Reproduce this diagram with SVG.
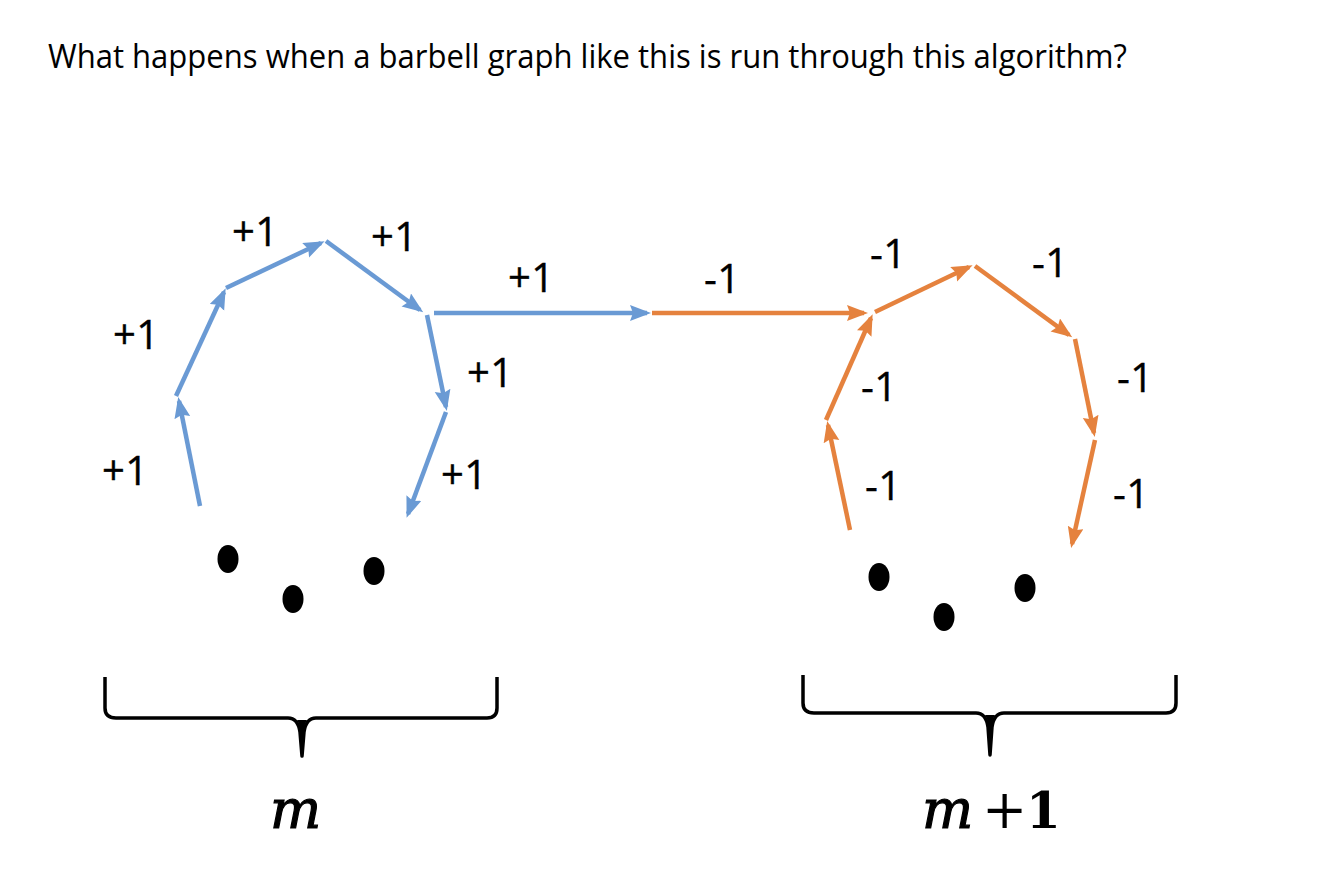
<svg xmlns="http://www.w3.org/2000/svg" width="1334" height="878" viewBox="0 0 1334 878">
<style>
.title{font-family:"Open Sans","Liberation Sans",sans-serif;font-size:32px;fill:#000}
.lbl{font-family:"Open Sans","Liberation Sans",sans-serif;font-size:40px;fill:#000;letter-spacing:0.5px;stroke:#000;stroke-width:0.4px}
.b{stroke:#6a9ad4;stroke-width:4.5;fill:none}
.o{stroke:#e5823e;stroke-width:4.5;fill:none}
.brace{stroke:#000;stroke-width:3.5;fill:none;stroke-linejoin:round}
.stem{fill:#000}
.dot{fill:#000}
.math{font-family:"DejaVu Serif","Liberation Serif",serif;font-size:54px;fill:#000}
.mi{font-style:italic;stroke:#000;stroke-width:1.2px}
</style>
<defs>
<marker id="ab" markerUnits="userSpaceOnUse" markerWidth="24" markerHeight="20" refX="17" refY="8" orient="auto">
<path d="M0,0 L21,8 L0,16 L3,8 z" fill="#6a9ad4"/>
</marker>
<marker id="ao" markerUnits="userSpaceOnUse" markerWidth="24" markerHeight="20" refX="17" refY="8" orient="auto">
<path d="M0,0 L21,8 L0,16 L3,8 z" fill="#e5823e"/>
</marker>
</defs>
<rect width="1334" height="878" fill="#fff"/>
<text class="title" x="48" y="68" textLength="1079" lengthAdjust="spacingAndGlyphs">What happens when a barbell graph like this is run through this algorithm?</text>

<g id="connectors">
<line class="b" x1="200" y1="506" x2="179" y2="401" marker-end="url(#ab)"/>
<line class="b" x1="176" y1="396" x2="224" y2="292" marker-end="url(#ab)"/>
<line class="b" x1="226" y1="288" x2="321" y2="243" marker-end="url(#ab)"/>
<line class="b" x1="326" y1="241" x2="420" y2="310" marker-end="url(#ab)"/>
<line class="b" x1="427" y1="315" x2="446" y2="407" marker-end="url(#ab)"/>
<line class="b" x1="446" y1="412" x2="408" y2="514" marker-end="url(#ab)"/>
<line class="b" x1="434" y1="313" x2="647" y2="313" marker-end="url(#ab)"/>
<line class="o" x1="652" y1="313" x2="864" y2="313" marker-end="url(#ao)"/>
<line class="o" x1="850" y1="530" x2="828" y2="425" marker-end="url(#ao)"/>
<line class="o" x1="826" y1="420" x2="871" y2="318" marker-end="url(#ao)"/>
<line class="o" x1="875" y1="312" x2="969" y2="267" marker-end="url(#ao)"/>
<line class="o" x1="975" y1="266" x2="1069" y2="335" marker-end="url(#ao)"/>
<line class="o" x1="1075" y1="339" x2="1094" y2="433" marker-end="url(#ao)"/>
<line class="o" x1="1095" y1="440" x2="1072" y2="544" marker-end="url(#ao)"/>
</g>

<g id="labels-left">
<text class="lbl" x="113" y="349">+1</text>
<text class="lbl" x="102" y="485">+1</text>
<text class="lbl" x="232" y="246">+1</text>
<text class="lbl" x="371" y="251">+1</text>
<text class="lbl" x="467" y="387">+1</text>
<text class="lbl" x="441" y="489">+1</text>
<text class="lbl" x="508" y="292">+1</text>
</g>
<g id="labels-right">
<text class="lbl" x="704" y="293">-1</text>
<text class="lbl" x="870" y="268">-1</text>
<text class="lbl" x="1032" y="277">-1</text>
<text class="lbl" x="861" y="401">-1</text>
<text class="lbl" x="1117" y="392">-1</text>
<text class="lbl" x="865" y="500">-1</text>
<text class="lbl" x="1113" y="508">-1</text>
</g>

<g id="dots-left">
<ellipse class="dot" cx="228" cy="559" rx="10.5" ry="14"/>
<ellipse class="dot" cx="293" cy="599" rx="10.5" ry="14"/>
<ellipse class="dot" cx="374" cy="571" rx="10.5" ry="14"/>
</g>
<g id="dots-right">
<ellipse class="dot" cx="879" cy="577" rx="10.5" ry="14"/>
<ellipse class="dot" cx="944" cy="617" rx="10.5" ry="14"/>
<ellipse class="dot" cx="1025" cy="588" rx="10.5" ry="14"/>
</g>

<g id="brace-left">
<path class="brace" d="M105,677 L105,708 Q105,718 116,718 L288,718 Q298,718 300,732 L302,756 L304,732 Q306,718 316,718 L487,718 Q497,718 497,708 L497,677"/>
<path class="stem" d="M297,720 Q301,726 300.5,740 L301.5,757 L302.5,757 L303.5,740 Q303,726 307,720 z"/>
<text class="math mi" x="270" y="828">m</text>
</g>
<g id="brace-right">
<path class="brace" d="M803,675 L803,703 Q803,713 814,713 L976,713 Q986,713 988,727 L990,755 L992,727 Q994,713 1004,713 L1166,713 Q1176,713 1176,703 L1176,675"/>
<path class="stem" d="M985,715 Q989,721 988.5,735 L989.5,756 L990.5,756 L991.5,735 Q991,721 995,715 z"/>
<text class="math" y="828"><tspan class="mi" x="922">m</tspan><tspan x="982">+</tspan><tspan x="1026" font-size="50px" font-weight="bold">1</tspan></text>
</g>
</svg>
